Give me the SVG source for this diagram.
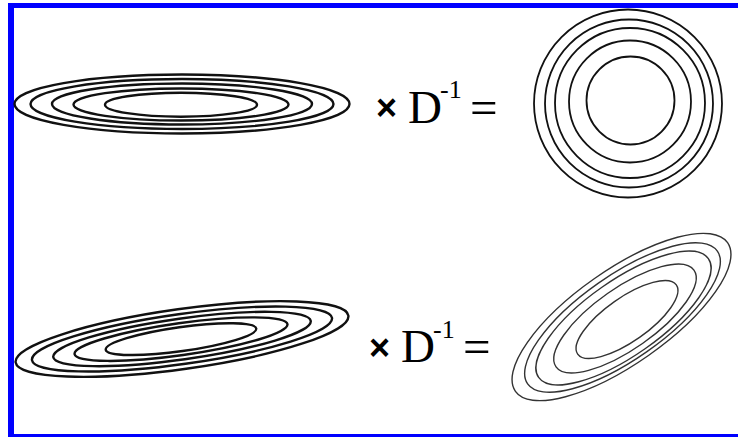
<svg xmlns="http://www.w3.org/2000/svg" width="738" height="437" viewBox="0 0 738 437">
<style>
.bold{fill:none;stroke:#111;stroke-width:2.4}
.circ{fill:none;stroke:#111;stroke-width:1.8}
.thin{fill:none;stroke:#333;stroke-width:1.4}
.serif{font-family:"Liberation Serif","Times New Roman",serif;fill:#000}
.times{font-family:"Liberation Sans",Arial,sans-serif;font-weight:bold;fill:#000}
.border{fill:#0000ff}
</style>
<rect x="0" y="0" width="738" height="437" fill="#ffffff"/>
<g id="frame">
<rect class="border" x="8" y="3" width="730" height="5"/>
<rect class="border" x="8" y="3" width="6" height="434"/>
<rect class="border" x="8" y="434" width="730" height="3"/>
</g>
<g id="ellipses-top-left">
<ellipse class="bold" cx="182" cy="104" rx="167.5" ry="29.5"/>
<ellipse class="bold" cx="182" cy="104" rx="151.5" ry="25"/>
<ellipse class="bold" cx="182" cy="104" rx="130" ry="20.5"/>
<ellipse class="bold" cx="181" cy="104.5" rx="107.5" ry="16"/>
<ellipse class="bold" cx="181" cy="104.7" rx="76" ry="12"/>
</g>
<g id="equation-top">
<text class="times" x="376" y="120" font-size="36">×</text>
<text class="serif" x="408" y="123" font-size="47">D</text>
<text class="serif" x="440" y="97.5" font-size="26">-1</text>
<text class="serif" x="470" y="124" font-size="49">=</text>
</g>
<g id="circles-top-right">
<circle class="circ" cx="628" cy="103.5" r="94"/>
<circle class="circ" cx="629" cy="103.5" r="84"/>
<circle class="circ" cx="630" cy="103" r="75"/>
<circle class="circ" cx="630" cy="101.5" r="61"/>
<circle class="circ" cx="630.5" cy="100.5" r="44"/>
</g>
<g id="ellipses-bottom-left" transform="translate(182,339) rotate(-8)">
<ellipse class="bold" cx="0" cy="0" rx="168" ry="30"/>
<ellipse class="bold" cx="0" cy="0" rx="151.5" ry="25"/>
<ellipse class="bold" cx="0" cy="0" rx="130" ry="20.5"/>
<ellipse class="bold" cx="-1" cy="0" rx="107.5" ry="16"/>
<ellipse class="bold" cx="-1" cy="0" rx="76" ry="12"/>
</g>
<g id="equation-bottom">
<text class="times" x="369" y="360" font-size="36">×</text>
<text class="serif" x="401" y="362" font-size="47">D</text>
<text class="serif" x="433" y="337.5" font-size="26">-1</text>
<text class="serif" x="463" y="363" font-size="49">=</text>
</g>
<g id="ellipses-bottom-right">
<ellipse class="thin" cx="621.5" cy="317" rx="129.5" ry="47" transform="rotate(-35 621.5 317)"/>
<ellipse class="thin" cx="622.5" cy="317.5" rx="115.8" ry="42" transform="rotate(-35 622.5 317.5)"/>
<ellipse class="thin" cx="623.5" cy="318" rx="103.6" ry="37.6" transform="rotate(-35 623.5 318)"/>
<ellipse class="thin" cx="625" cy="318.5" rx="84.2" ry="30.5" transform="rotate(-35 625 318.5)"/>
<ellipse class="thin" cx="627" cy="319.5" rx="60.2" ry="21.9" transform="rotate(-35 627 319.5)"/>
</g>
</svg>
